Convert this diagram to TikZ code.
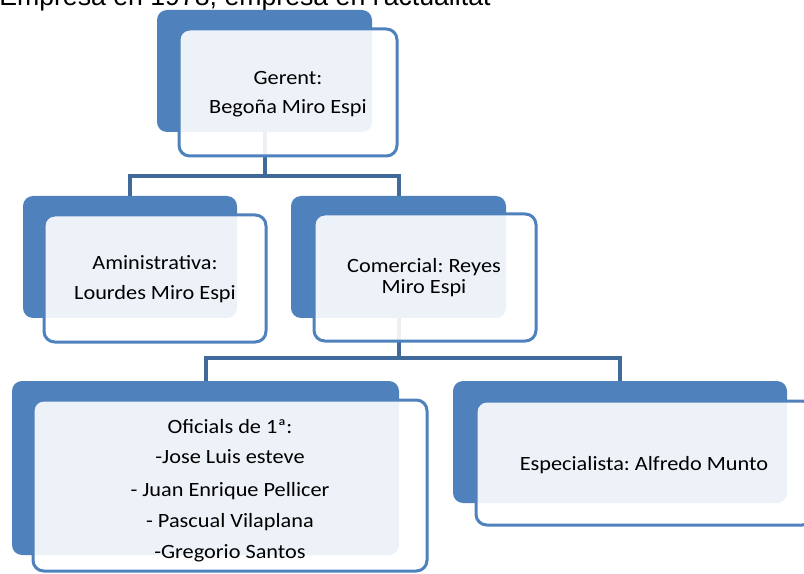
\documentclass[tikz,border=0pt]{standalone}
\usepackage{fontspec}
\usetikzlibrary{fit,backgrounds}
\newfontfamily\boxfont[FakeStretch=1.1]{Carlito}
\newfontfamily\topfont{Liberation Sans}
\definecolor{boxblue}{HTML}{4F81BD}
\definecolor{connblue}{HTML}{416A9C}
\frenchspacing
\begin{document}
\begin{tikzpicture}[x=0.75pt,y=-0.75pt,
  backbox/.style={fill=boxblue, draw=none, rounded corners=7.5pt, inner sep=0pt},
  frontbox/.style={fill=white, fill opacity=0.9, draw=boxblue, line width=2.25pt, rounded corners=8pt, inner sep=0pt},
  conn/.style={draw=connblue, line width=3pt},
  lbl/.style={font=\boxfont\fontsize{15.2}{18}\selectfont\frenchspacing, text=black, anchor=base, inner sep=0pt}]
\useasboundingbox (0,0) rectangle (804,574);
\clip (0,0) rectangle (804,574);
\node[font=\topfont\fontsize{20}{24}\selectfont, anchor=base west, inner sep=0pt] (title) at (-1,6) {Empresa en 1978, empresa en l'actualitat};
% back boxes
\node[backbox, fit={(157,10)(372,132)}] (g0) {};
\node[backbox, fit={(23,196)(237,318)}] (a0) {};
\node[backbox, fit={(291,196)(506,318)}] (c0) {};
\node[backbox, fit={(12,381)(399,555)}] (o0) {};
\node[backbox, fit={(453,381)(787,503)}] (e0) {};
% connectors
\coordinate (j1) at (264,176);
\coordinate (j2) at (398,358);
\begin{pgfonlayer}{background}
\draw[conn] (g0.south) -- (g0.south |- j1) -| (a0.north);
\draw[conn] (g0.south |- j1) -| (c0.north);
\draw[conn] (c0.south) -- (c0.south |- j2) -| (o0.north);
\draw[conn] (c0.south |- j2) -| (e0.north);
\end{pgfonlayer}
% front boxes
\node[frontbox, fit={(179,29)(397,156)}] (g1) {};
\node[frontbox, fit={(44,215)(266,342)}] (a1) {};
\node[frontbox, fit={(314,214)(536,341)}] (c1) {};
\node[frontbox, fit={(33,400)(427,571)}] (o1) {};
\node[frontbox, fit={(476,401)(813,525)}] (e1) {};
% labels
\node[lbl] (gt1) at (288,85) {Gerent:};
\node[lbl] (gt2) at (288,114) {Begoña Miro Espi};
\node[lbl] (at1) at (155,270) {Aministrativa:};
\node[lbl] (at2) at (155,300) {Lourdes Miro Espi};
\node[lbl] (ct1) at (424,273) {Comercial: Reyes};
\node[lbl] (ct2) at (424,294) {Miro Espi};
\node[lbl] (ot1) at (230,433) {Oficials de 1ª:};
\node[lbl] (ot2) at (230,463) {-Jose Luis esteve};
\node[lbl] (ot3) at (230,496) {- Juan Enrique Pellicer};
\node[lbl] (ot4) at (230,527) {- Pascual Vilaplana};
\node[lbl] (ot5) at (230,558) {-Gregorio Santos};
\node[lbl] (et1) at (644,470) {Especialista: Alfredo Munto};
\end{tikzpicture}
\end{document}
